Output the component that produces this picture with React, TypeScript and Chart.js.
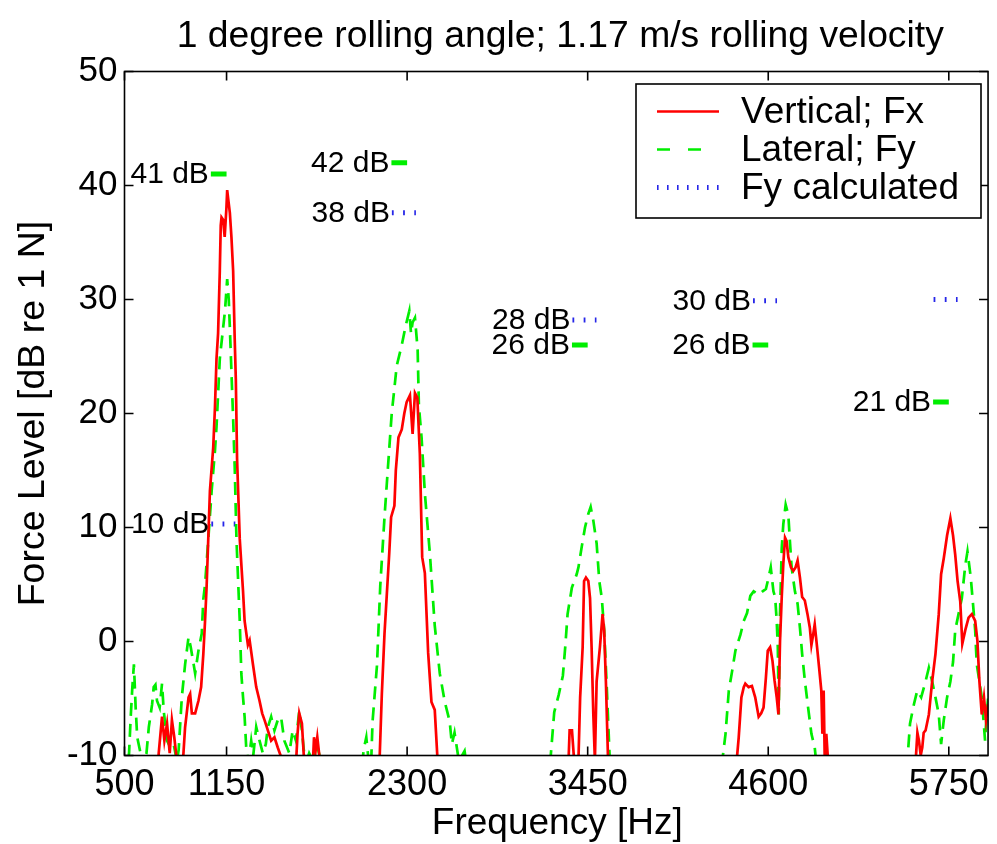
import React, { useEffect, useRef } from "react";
import { Chart, registerables } from "chart.js";

Chart.register(...registerables);

const titleText = "1 degree rolling angle; 1.17 m/s rolling velocity";
const xAxisTitle = "Frequency [Hz]";
const yAxisTitle = "Force Level [dB re 1 N]";
const xTickValues = [500, 1150, 2300, 3450, 4600, 5750];
const yTickValues = [-10, 0, 10, 20, 30, 40, 50];
const seriesNames = ["Vertical; Fx", "Lateral; Fy", "Fy calculated"];

// Vertical force spectrum (Fx)
const vertFreq = [500, 700, 718, 739, 754, 771, 788, 802, 817, 834, 870, 886, 908, 918, 929, 950, 971, 988, 1002, 1013, 1023, 1044, 1065, 1076, 1086, 1096, 1107, 1113, 1118, 1128, 1138, 1149, 1154, 1164, 1171, 1181, 1192, 1202, 1209, 1217, 1234, 1255, 1265, 1286, 1297, 1318, 1339, 1360, 1377, 1392, 1413, 1434, 1455, 1476, 1507, 1560, 1595, 1602, 1613, 1630, 1644, 1690, 1702, 1707, 1718, 1728, 1745, 1800, 2100, 2125, 2139, 2156, 2171, 2186, 2198, 2219, 2228, 2245, 2266, 2282, 2297, 2318, 2335, 2350, 2365, 2381, 2396, 2413, 2434, 2455, 2476, 2493, 2550, 3300, 3328, 3335, 3350, 3364, 3391, 3402, 3418, 3427, 3439, 3454, 3465, 3475, 3486, 3496, 3507, 3528, 3545, 3555, 3566, 3580, 3620, 4380, 4402, 4412, 4429, 4444, 4454, 4475, 4496, 4517, 4539, 4555, 4570, 4585, 4597, 4612, 4627, 4640, 4654, 4665, 4675, 4686, 4696, 4707, 4717, 4728, 4745, 4760, 4774, 4787, 4802, 4816, 4833, 4850, 4865, 4875, 4886, 4896, 4911, 4924, 4938, 4945, 4953, 4960, 4970, 4981, 5020, 5520, 5539, 5550, 5560, 5571, 5581, 5590, 5602, 5623, 5644, 5665, 5686, 5701, 5718, 5739, 5760, 5777, 5791, 5806, 5823, 5836, 5855, 5876, 5897, 5918, 5932, 5945, 5960, 5974, 5987, 6000];
const vertLevel = [-13, -13, -9.8, -6.6, -8.7, -7.2, -9.8, -6.9, -8.4, -10.5, -11, -7.5, -4.9, -4.6, -6.3, -6.3, -5.2, -4.0, -1.1, 1.8, 4.8, 13.2, 17.0, 20.5, 24.8, 27.0, 32.5, 36.5, 37.2, 37.0, 35.5, 38.0, 39.6, 38.4, 37.6, 35.5, 32.5, 26.5, 23.0, 16.0, 9.0, 4.4, 1.8, -0.3, 0.1, -2.0, -4.0, -5.2, -6.3, -6.9, -7.8, -8.7, -8.4, -9.3, -10.5, -12, -10, -8.1, -6.3, -7.2, -10.5, -11, -10, -8.4, -9.5, -8.4, -10.5, -13, -13, -10.2, -4.6, 0.7, 4.2, 7.7, 10.9, 11.9, 15.0, 17.9, 18.6, 20.0, 21.0, 21.6, 18.2, 21.8, 21.4, 16.5, 7.4, 6.0, -1.0, -5.3, -6.0, -10.2, -13, -13, -10.5, -7.8, -7.8, -10.5, -10.5, -4.9, -0.5, 5.3, 5.6, 5.3, 3.8, -0.5, -6.4, -10.5, -3.5, -0.5, 2.4, 1.0, -3.5, -10.5, -13, -13, -10, -8.4, -4.9, -4.0, -3.7, -4.0, -3.9, -4.9, -6.6, -6.3, -5.8, -3.2, -0.8, -0.5, -1.7, -3.4, -4.9, -6.4, 0.0, 3.9, 6.8, 9.1, 8.8, 7.4, 6.5, 6.2, 6.5, 7.1, 5.6, 3.9, 3.6, 2.4, 1.2, -0.3, 0.6, 1.5, -0.5, -2.3, -4.3, -8.1, -4.3, -10.5, -8.1, -10.5, -13, -13, -10.5, -8.0, -8.7, -10.0, -9.3, -8.0, -7.8, -6.4, -3.5, -1.1, 2.4, 5.9, 7.3, 9.3, 10.8, 9.3, 7.6, 5.3, 3.5, -0.2, 1.0, 2.1, 2.4, 1.8, 0.1, -3.5, -6.4, -4.9, -6.9, -5.5];

// Lateral force spectrum (Fy)
const latFreq = [500, 520, 529, 540, 550, 560, 571, 581, 602, 620, 640, 655, 676, 686, 697, 707, 724, 739, 750, 771, 792, 813, 834, 845, 855, 865, 886, 908, 922, 950, 971, 992, 1002, 1013, 1034, 1055, 1076, 1086, 1107, 1128, 1140, 1154, 1164, 1171, 1181, 1192, 1202, 1213, 1234, 1244, 1255, 1265, 1276, 1290, 1307, 1320, 1339, 1360, 1381, 1400, 1413, 1434, 1455, 1476, 1497, 1518, 1550, 1571, 1592, 1613, 1630, 1644, 1660, 1676, 1700, 1718, 1739, 1760, 1800, 2000, 2023, 2040, 2055, 2070, 2080, 2108, 2129, 2156, 2177, 2202, 2234, 2266, 2291, 2314, 2325, 2335, 2350, 2367, 2375, 2392, 2413, 2445, 2476, 2508, 2540, 2571, 2585, 2602, 2630, 2666, 2680, 2720, 3180, 3212, 3237, 3265, 3292, 3307, 3322, 3349, 3380, 3391, 3412, 3433, 3454, 3469, 3486, 3507, 3524, 3540, 3555, 3570, 3583, 3591, 3620, 4280, 4307, 4328, 4349, 4370, 4391, 4423, 4444, 4465, 4486, 4507, 4539, 4564, 4585, 4602, 4616, 4633, 4644, 4654, 4661, 4667, 4675, 4686, 4696, 4711, 4728, 4738, 4749, 4770, 4787, 4802, 4816, 4833, 4854, 4875, 4896, 4905, 4930, 5460, 5486, 5503, 5528, 5549, 5574, 5602, 5623, 5644, 5665, 5686, 5701, 5718, 5739, 5760, 5777, 5791, 5812, 5833, 5855, 5869, 5890, 5903, 5918, 5928, 5945, 5960, 5981, 5991, 6000];
const latLevel = [-12, -11, -9.8, -6.5, -4.0, -2.0, -5.8, -8.4, -9.8, -11, -9.8, -7.5, -5.5, -4.0, -3.8, -5.2, -5.8, -3.7, -6.1, -8.7, -9.3, -9.0, -10.5, -9.5, -7.2, -4.9, -2.0, 0.4, -0.5, -2.8, -0.8, 0.7, 3.7, 5.0, 9.0, 13.2, 16.7, 18.8, 24.8, 27.5, 29.0, 31.8, 30.0, 27.5, 23.7, 19.5, 15.3, 9.0, 1.8, -2.8, -4.9, -6.6, -9.5, -10.5, -8.7, -10.0, -7.5, -8.7, -9.8, -9.0, -7.5, -6.6, -7.8, -6.9, -6.6, -8.7, -9.8, -7.8, -8.7, -6.1, -7.8, -9.8, -10.5, -9.8, -10.5, -8.7, -9.8, -11, -13, -13, -9.5, -8.4, -10.5, -11, -7.0, -2.1, 4.9, 10.9, 15.1, 20.0, 24.2, 26.0, 27.7, 29.0, 27.0, 28.0, 28.4, 25.6, 20.7, 17.9, 13.0, 7.7, 1.4, -2.8, -5.3, -7.0, -9.0, -8.0, -10.5, -9.6, -11, -13, -13, -10.5, -6.2, -4.7, -3.0, -0.5, 2.4, 4.7, 5.9, 6.5, 8.3, 10.0, 11.2, 11.8, 10.6, 8.6, 5.3, 3.8, 1.0, -3.5, -7.8, -10.5, -13, -13, -10.5, -8.1, -4.3, -2.6, -0.8, 0.6, 1.8, 2.5, 4.0, 4.4, 4.1, 4.4, 4.6, 5.6, 6.5, 4.4, 3.9, 1.8, -0.5, -6.4, 2.4, 8.2, 10.3, 12.0, 11.1, 8.8, 6.5, 4.4, 3.3, 1.2, -1.1, -3.4, -5.8, -8.1, -9.3, -10.5, -13, -13, -10.5, -7.2, -5.5, -4.3, -4.9, -3.5, -2.3, -3.5, -4.9, -6.4, -9.0, -6.9, -4.9, -3.5, -1.8, 1.0, 2.4, 3.8, 6.7, 7.9, 5.6, 3.5, 1.0, -2.0, -3.5, -4.9, -8.7, -6.4, -5.0];

// Harmonic annotations
const harmonicFreq = [1150, 2300, 3450, 4600, 5750];
const measuredFyLevel = [41, 42, 26, 26, 21];
const measuredFyLabel = ["41 dB", "42 dB", "26 dB", "26 dB", "21 dB"];
const calculatedFyLevel = [10.3, 37.6, 28.2, 29.9, 30];
const calculatedFyLabel = ["10 dB", "38 dB", "28 dB", "30 dB", ""];

// marker extents relative to each harmonic (Hz before, Hz after)
const MEAS_BEFORE = 100;
const MEAS_AFTER = 0;
const CALC_BEFORE = 97;
const CALC_AFTER = 56;

const FONT = "'Liberation Sans', Arial, Helvetica, sans-serif";
const RED = "#ff0000";
const GREEN = "#00ee00";
const BLUE = "#2626e8";

const decorPlugin = {
  id: "decor",
  afterDatasetsDraw(chart: any) {
    const { ctx, chartArea: a, scales } = chart;
    const x = scales.x;
    const y = scales.y;
    ctx.save();

    // annotation texts
    ctx.fillStyle = "#000";
    ctx.font = `30px ${FONT}`;
    ctx.textAlign = "right";
    ctx.textBaseline = "middle";
    harmonicFreq.forEach((h, i) => {
      ctx.fillText(
        measuredFyLabel[i],
        x.getPixelForValue(h - MEAS_BEFORE) - 2,
        y.getPixelForValue(measuredFyLevel[i]) + 1
      );
      if (calculatedFyLabel[i]) {
        ctx.fillText(
          calculatedFyLabel[i],
          x.getPixelForValue(h - CALC_BEFORE) - 2,
          y.getPixelForValue(calculatedFyLevel[i]) + 1
        );
      }
    });

    // axes box
    ctx.strokeStyle = "#000";
    ctx.lineWidth = 1.6;
    ctx.strokeRect(a.left, a.top, a.right - a.left, a.bottom - a.top);

    // inward ticks
    const TL = 9;
    ctx.beginPath();
    xTickValues.forEach((v) => {
      const px = x.getPixelForValue(v);
      ctx.moveTo(px, a.bottom);
      ctx.lineTo(px, a.bottom - TL);
      ctx.moveTo(px, a.top);
      ctx.lineTo(px, a.top + TL);
    });
    yTickValues.forEach((v) => {
      const py = y.getPixelForValue(v);
      ctx.moveTo(a.left, py);
      ctx.lineTo(a.left + TL, py);
      ctx.moveTo(a.right, py);
      ctx.lineTo(a.right - TL, py);
    });
    ctx.stroke();

    // legend
    const lx = 636, ly = 84, lw = 345, lh = 134;
    ctx.fillStyle = "#fff";
    ctx.fillRect(lx, ly, lw, lh);
    ctx.lineWidth = 1.6;
    ctx.strokeStyle = "#000";
    ctx.strokeRect(lx, ly, lw, lh);
    const rows = [111.5, 149.5, 187.5];
    const styles = [
      { c: RED, w: 2.7, d: [] as number[] },
      { c: GREEN, w: 2.7, d: [13, 18] },
      { c: BLUE, w: 5, d: [1.6, 8.4] },
    ];
    rows.forEach((ry, i) => {
      ctx.beginPath();
      ctx.strokeStyle = styles[i].c;
      ctx.lineWidth = styles[i].w;
      ctx.setLineDash(styles[i].d);
      ctx.moveTo(657, ry);
      ctx.lineTo(719, ry);
      ctx.stroke();
      ctx.setLineDash([]);
      ctx.fillStyle = "#000";
      ctx.font = `37px ${FONT}`;
      ctx.textAlign = "left";
      ctx.textBaseline = "middle";
      ctx.fillText(seriesNames[i], 741, ry + 1);
    });

    // title
    const cx = (a.left + a.right) / 2;
    ctx.fillStyle = "#000";
    ctx.textAlign = "center";
    ctx.textBaseline = "alphabetic";
    ctx.font = `37.3px ${FONT}`;
    ctx.fillText(titleText, cx + 4, 47);

    // x title
    ctx.font = `37px ${FONT}`;
    ctx.fillText(xAxisTitle, cx + 1, 834);

    // y title
    ctx.save();
    ctx.font = `37.5px ${FONT}`;
    ctx.translate(44, (a.top + a.bottom) / 2);
    ctx.rotate(-Math.PI / 2);
    ctx.fillText(yAxisTitle, 0, 0);
    ctx.restore();

    ctx.restore();
  },
};

function seg(f0: number, f1: number, v: number) {
  return [
    { x: f0, y: v },
    { x: f1, y: v },
  ];
}

export default function App() {
  const ref = useRef<HTMLCanvasElement | null>(null);

  useEffect(() => {
    if (!ref.current) return;
    const datasets: any[] = [
      {
        label: seriesNames[0],
        data: vertFreq.map((f, i) => ({ x: f, y: vertLevel[i] })),
        borderColor: RED,
        borderWidth: 2.7,
        pointRadius: 0,
        tension: 0,
        clip: 0,
      },
      {
        label: seriesNames[1],
        data: latFreq.map((f, i) => ({ x: f, y: latLevel[i] })),
        borderColor: GREEN,
        borderWidth: 2.7,
        borderDash: [13, 8],
        pointRadius: 0,
        tension: 0,
        clip: 0,
      },
    ];
    harmonicFreq.forEach((h, i) => {
      datasets.push({
        label: "meas" + i,
        data: seg(h - MEAS_BEFORE, h + MEAS_AFTER, measuredFyLevel[i]),
        borderColor: GREEN,
        borderWidth: 5,
        pointRadius: 0,
        borderCapStyle: "butt",
      });
      datasets.push({
        label: "calc" + i,
        data: seg(h - CALC_BEFORE, h + CALC_AFTER, calculatedFyLevel[i]),
        borderColor: BLUE,
        borderWidth: 5,
        borderDash: [1.8, 9.4],
        pointRadius: 0,
        borderCapStyle: "butt",
      });
    });

    const chart = new Chart(ref.current, {
      type: "line",
      data: { datasets },
      plugins: [decorPlugin],
      options: {
        animation: false,
        responsive: false,
        devicePixelRatio: 1,
        events: [],
        layout: { padding: { top: 71.5, left: 0, right: 3.5, bottom: 0 } },
        plugins: {
          legend: { display: false },
          title: { display: false },
          tooltip: { enabled: false },
        },
        scales: {
          x: {
            type: "linear",
            min: 500,
            max: 6000,
            grid: { display: false, drawTicks: false },
            border: { display: false },
            afterBuildTicks: (s: any) => {
              s.ticks = xTickValues.map((v) => ({ value: v }));
            },
            afterFit: (s: any) => {
              s.height = 88.5;
            },
            ticks: {
              autoSkip: false,
              maxRotation: 0,
              minRotation: 0,
              padding: 8,
              color: "#000",
              font: { family: FONT, size: 36 },
              callback: (v: any) => String(v),
            },
          },
          y: {
            type: "linear",
            min: -10,
            max: 50,
            grid: { display: false, drawTicks: false },
            border: { display: false },
            afterFit: (s: any) => {
              s.width = 124.5;
            },
            ticks: {
              stepSize: 10,
              padding: 7,
              color: "#000",
              font: { family: FONT, size: 35 },
            },
          },
        },
      },
    });
    return () => chart.destroy();
  }, []);

  return (
    <div
      style={{
        position: "fixed",
        left: 0,
        top: 0,
        width: 997,
        height: 844,
        background: "#fff",
      }}
    >
      <canvas ref={ref} width={997} height={844} style={{ width: 997, height: 844 }} />
    </div>
  );
}
